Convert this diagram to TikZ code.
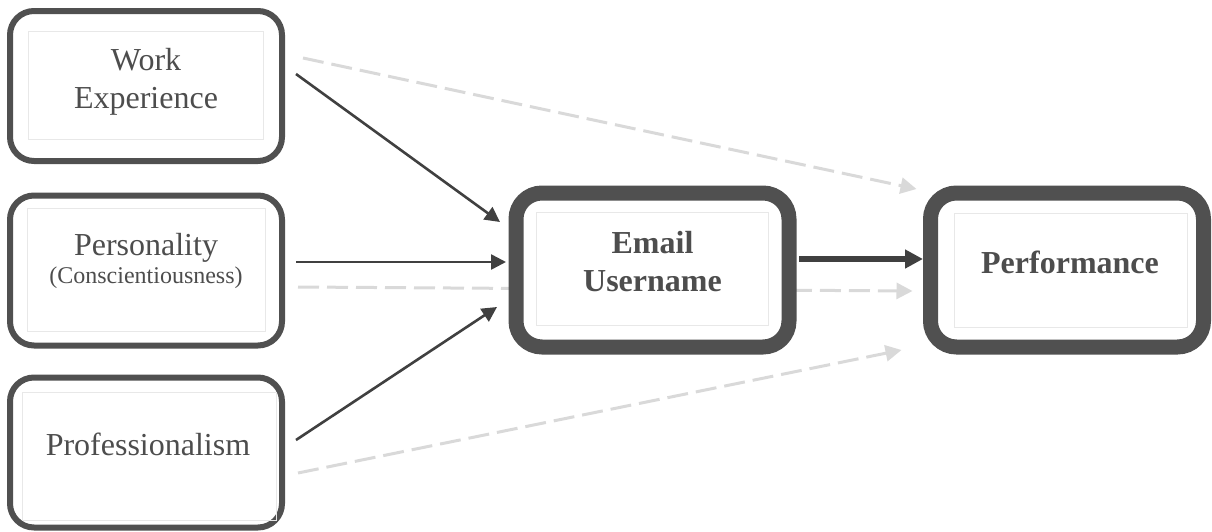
\documentclass[tikz,border=0pt]{standalone}
\usepackage{fontspec}
\setmainfont{Liberation Serif}
\usepackage{tikz}
\usetikzlibrary{calc,arrows.meta,backgrounds}
\definecolor{boxGray}{RGB}{80,80,80}
\definecolor{textGray}{RGB}{77,77,77}
\definecolor{arrowGray}{RGB}{64,64,64}
\definecolor{dashGray}{RGB}{217,217,217}
\definecolor{innerGray}{RGB}{232,232,232}

\begin{document}
\begin{tikzpicture}[x=0.5pt,y=-0.5pt,
  predBox/.style={draw=boxGray, line width=3pt, rounded corners=12pt, fill=white,
    minimum width=136pt, minimum height=75pt},
  mainBox/.style={draw=boxGray, line width=7.5pt, rounded corners=13pt, fill=white,
    minimum width=136.5pt, minimum height=77pt},
  innerBox/.style={draw=innerGray, line width=0.5pt, inner sep=0pt},
  boxText/.style={text=textGray, align=center, inner sep=0pt,
    font=\fontsize{16}{18}\selectfont},
  solidArrow/.style={arrowGray, line width=1.3pt, -{Triangle[length=7.5pt,width=7.5pt]}},
  mainArrow/.style={arrowGray, line width=3pt, -{Triangle[length=9pt,width=9pt]}},
  dashArrow/.style={dashGray, line width=1.5pt, dash pattern=on 10.5pt off 4pt,
    -{Triangle[length=8pt,width=8pt]}}]
\useasboundingbox (0,0) rectangle (1212,531);

\node[predBox] (we) at (146,86) {};
\node[predBox] (pe) at (146,270.5) {};
\node[predBox] (pr) at (146,452.5) {};
\node[mainBox] (em) at (652.5,270) {};
\node[mainBox] (pf) at (1067,270) {};

\node[innerBox, minimum width=117.5pt, minimum height=54pt] (weIn) at (145.5,85) {};
\node[innerBox, minimum width=119pt, minimum height=61.5pt] (peIn) at (146,269.5) {};
\node[innerBox, minimum width=127pt, minimum height=64pt] (prIn) at (149.5,456.5) {};
\node[innerBox, minimum width=116pt, minimum height=56.5pt] (emIn) at (652,268.5) {};
\node[innerBox, minimum width=116.5pt, minimum height=57pt] (pfIn) at (1070.5,270) {};

\node[boxText] (weTxt) at (146,82) {Work\\[1pt]Experience};
\node[boxText] (peTxt) at (146,261) {Personality\\[-4pt]{\fontsize{12}{14}\selectfont (Conscientiousness)}};
\node[boxText] (prTxt) at (148,444) {Professionalism};
\node[boxText, font=\fontsize{16}{18}\bfseries] (emTxt) at (652.5,262) {Email\\[1pt]Username};
\node[boxText, font=\fontsize{16}{18}\bfseries] (pfTxt) at (1070,262) {Performance};

\begin{scope}[on background layer]
\draw[dashArrow] ($(we.east)+(18,-28)$) -- ($(pf.west)+(-6.5,-81)$);
\draw[dashArrow] ($(pe.east)+(13,16.5)$) -- ($(pf.west)+(-10.5,21)$);
\draw[dashArrow] ($(pr.east)+(13,20.5)$) -- ($(pf.west)+(-21.5,80)$);
\end{scope}

\draw[solidArrow] ($(we.east)+(11,-12)$) -- ($(em.west)+(-8.5,-48)$);
\draw[solidArrow] ($(pe.east)+(11,-8.5)$) -- ($(em.west)+(-2.5,-8)$);
\draw[solidArrow] ($(pr.east)+(11,-12.5)$) -- ($(em.west)+(-11.5,37)$);
\draw[mainArrow] ($(em.east)+(2.5,-11)$) -- ($(pf.west)+(0,-11)$);
\end{tikzpicture}
\end{document}
